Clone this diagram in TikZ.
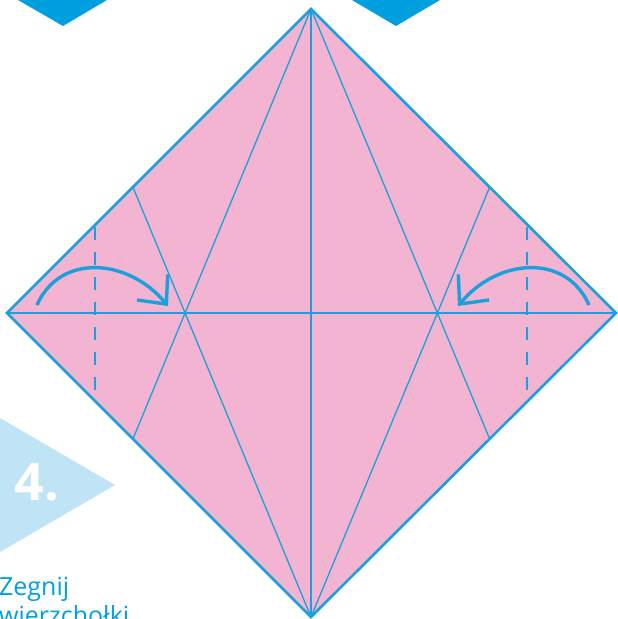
\documentclass[tikz,border=0pt]{standalone}
\usepackage{fontspec}
\setmainfont{Open Sans}
\usetikzlibrary{arrows.meta,calc}
\definecolor{rosa}{HTML}{F2B4D0}
\definecolor{cyanline}{HTML}{1AA0DD}
\definecolor{tabblue}{HTML}{009FE0}
\definecolor{skyfill}{HTML}{BEE4F6}
\tikzset{sheet/.style={fill=rosa}, rim/.style={draw=cyanline,line width=2.6pt,line join=miter}, crease/.style={draw=cyanline,line width=1.3pt}, guide/.style={draw=cyanline,line width=1.5pt,dash pattern=on 13pt off 12pt}, foldarrow/.style={draw=cyanline,line width=3.4pt,-{Straight Barb[length=22pt,width=40pt,line width=3.4pt]}}, tabmark/.style={fill=tabblue}, stepno/.style={text=white,font=\fontsize{52}{52}\selectfont\bfseries,inner sep=0pt}, caption/.style={text=tabblue,font=\fontsize{25}{29}\selectfont,align=left,inner sep=0pt}}

\begin{document}
\begin{tikzpicture}[x=1pt,y=-1pt]
\useasboundingbox (0,0) rectangle (618,619);
% markers left over from step 3
\fill[tabmark] (18,0)--(107,0)--(63,26)--cycle;
\fill[tabmark] (352,0)--(440,0)--(396,26)--cycle;
% step number and caption
\fill[skyfill] (0,418)--(115,485)--(0,552)--cycle;
\node[stepno] (num) at (37,482) {4.};
\node[caption,anchor=north west] (txt) at (-1,577) {Zegnij\\wierzchołki};
% the square, turned on its corner
\coordinate (T) at (311,9);
\coordinate (B) at (311,617);
\coordinate (L) at (7,313);
\coordinate (R) at (616,313);
\coordinate (ul) at ($(L)!0.4142!(T)$);
\coordinate (ll) at ($(L)!0.4142!(B)$);
\coordinate (ur) at ($(R)!0.4142!(T)$);
\coordinate (lr) at ($(R)!0.4142!(B)$);
\fill[sheet] (T)--(R)--(B)--(L)--cycle;
\draw[crease] (L)--(R) (T)--(B);
\draw[crease] (T)--(ll) (T)--(lr) (B)--(ul) (B)--(ur);
\draw[guide] (95,227)--(95,392);
\draw[guide] (527,227)--(527,392);
\draw[rim] (T)--(R)--(B)--(L)--cycle;
% fold arrows
\coordinate (a1) at (37,305);
\coordinate (a2) at (168,306);
\coordinate (b1) at (589,305);
\coordinate (b2) at (458,306);
\draw[foldarrow] (a1) .. controls (60,253) and (128,258) .. (a2);
\draw[foldarrow] (b1) .. controls (566,253) and (498,258) .. (b2);
\end{tikzpicture}
\end{document}
